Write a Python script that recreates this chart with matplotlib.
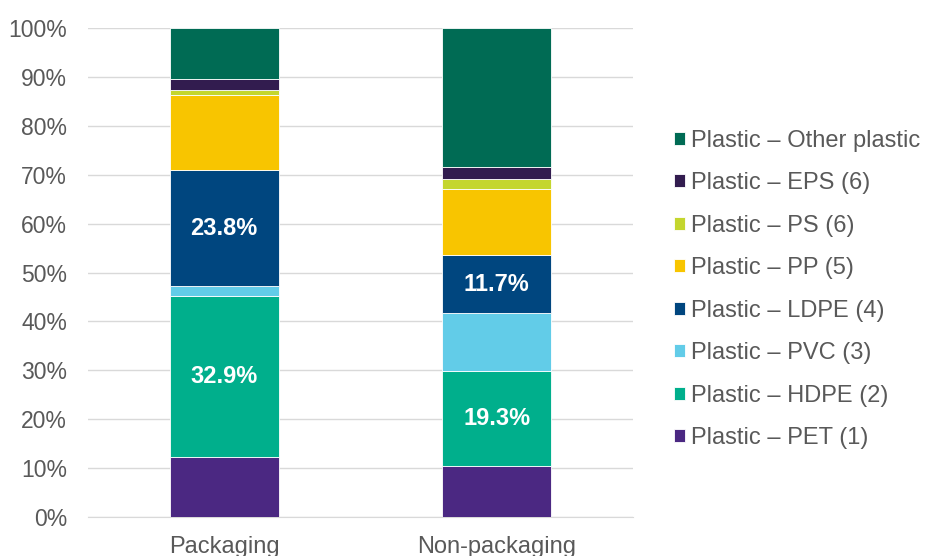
import matplotlib.pyplot as plt
import numpy as np

plt.rcParams['font.family'] = ['Liberation Sans', 'DejaVu Sans']

categories = ['Packaging', 'Non-packaging']
series_names = ['Plastic – PET (1)', 'Plastic – HDPE (2)', 'Plastic – PVC (3)',
                'Plastic – LDPE (4)', 'Plastic – PP (5)', 'Plastic – PS (6)',
                'Plastic – EPS (6)', 'Plastic – Other plastic']
pet = [12.3, 10.5]
hdpe = [32.9, 19.3]
pvc = [2.0, 12.0]
ldpe = [23.8, 11.7]
pp = [15.3, 13.6]
ps = [1.1, 2.0]
eps = [2.1, 2.5]
other = [10.5, 28.4]
colors = ['#4B2882', '#00AF8C', '#62CCE8', '#00467F', '#F8C500', '#C4D62E',
          '#321C4F', '#006B54']
# which series get a value label
labelled = ['Plastic – HDPE (2)', 'Plastic – LDPE (4)']

fig = plt.figure(figsize=(9.25, 5.56), dpi=100)
ax = fig.add_axes([0.0951, 0.0701, 0.5892, 0.8795])

x = np.arange(len(categories))
bottom = np.zeros(len(categories))
handles = []
for name, vals, c in zip(series_names, [pet, hdpe, pvc, ldpe, pp, ps, eps, other], colors):
    vals = np.array(vals)
    b = ax.bar(x, vals, 0.4, bottom=bottom, color=c, edgecolor='white',
               linewidth=0.6, label=name, zorder=3)
    handles.append(b)
    if name in labelled:
        for xi, v, bt in zip(x, vals, bottom):
            ax.text(xi, bt + v / 2, f'{v:.1f}%', ha='center', va='center',
                    color='white', fontsize=17, fontweight='bold', zorder=4)
    bottom += vals

ax.set_xlim(-0.5, 1.5)
ax.set_ylim(0, 100)
ax.set_yticks(np.arange(0, 101, 10))
ax.set_yticklabels([f'{t}%' for t in range(0, 101, 10)])
ax.set_xticks(x)
ax.set_xticklabels(categories)
ax.tick_params(axis='both', length=0, labelcolor='#595959')
ax.tick_params(axis='y', pad=15, labelsize=16.5)
ax.tick_params(axis='x', pad=14, labelsize=17)
ax.grid(axis='y', color='#D9D9D9', linewidth=1, zorder=0)
for s in ['top', 'right', 'left']:
    ax.spines[s].set_visible(False)
ax.spines['bottom'].set_color('#D9D9D9')

leg = fig.legend(handles[::-1], series_names[::-1], loc='upper left',
                 bbox_to_anchor=(0.729, 0.767), frameon=False, fontsize=17,
                 handlelength=0.47, handleheight=0.47, handletextpad=0.25,
                 labelspacing=0.87, borderaxespad=0, borderpad=0)
for t in leg.get_texts():
    t.set_color('#595959')

fig.savefig('out.png', dpi=100)
